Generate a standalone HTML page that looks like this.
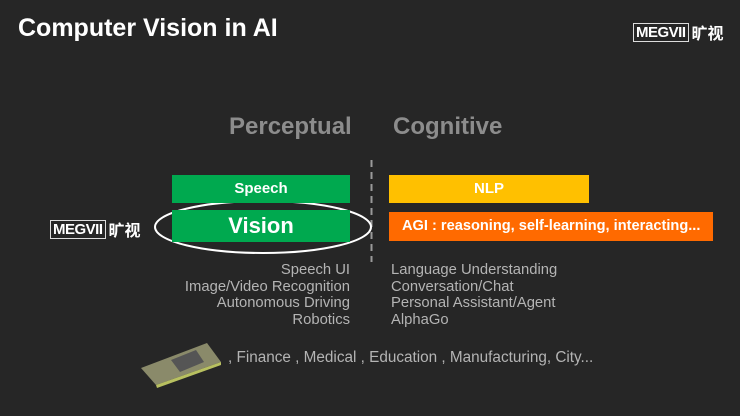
<!DOCTYPE html>
<html><head><meta charset="utf-8"><style>
html,body{margin:0;padding:0;}
body{width:740px;height:416px;background:#262626;position:relative;overflow:hidden;font-family:"Liberation Sans","Noto Sans CJK SC",sans-serif;}
.a{position:absolute;white-space:nowrap;}
.box{position:absolute;color:#fff;font-weight:bold;text-align:center;}
.l{font-size:14.8px;color:#b4b4b4;line-height:16.6px;}
.logo{position:absolute;display:flex;align-items:center;color:#fff;}
.logo .m{border:1.5px solid #ddd;padding:0 2px;font-weight:bold;font-family:"Liberation Sans Narrow","Liberation Sans",sans-serif;letter-spacing:-0.5px;line-height:17px;}
.logo .c{margin-left:3px;font-family:"Noto Sans CJK SC",sans-serif;font-weight:bold;}
</style></head><body>
<div class="a" style="left:18px;top:14px;font-size:25px;font-weight:bold;color:#fff;">Computer Vision in AI</div>
<div class="logo" style="left:633px;top:20px;"><span class="m" style="font-size:15px;">MEGVII</span><span class="c" style="font-size:16px;">旷视</span></div>

<div class="a" style="left:229px;top:113px;font-size:24px;font-weight:bold;color:#8c8c8c;">Perceptual</div>
<div class="a" style="left:393px;top:113px;font-size:24px;font-weight:bold;color:#8c8c8c;">Cognitive</div>

<svg class="a" style="left:0;top:0" width="740" height="416">
<line x1="371.5" y1="160" x2="371.5" y2="262" stroke="#9a9a9a" stroke-width="2" stroke-dasharray="7,5"/>
<ellipse cx="263" cy="227" rx="108" ry="26" fill="none" stroke="#fff" stroke-width="2"/>
<polygon points="141,368 207,343 221,362 156,385" fill="#8a8a6a"/>
<polygon points="156,385 221,362 221,365 157,388" fill="#b8c060"/>
<polygon points="171,360 196,350 204,362 180,372" fill="#555"/>
</svg>

<div class="box" style="left:172px;top:175px;width:178px;height:28px;background:#00a94f;font-size:15px;line-height:28px;">Speech</div>
<div class="box" style="left:172px;top:210px;width:178px;height:32px;background:#00a94f;font-size:22px;line-height:32px;">Vision</div>
<div class="box" style="left:389px;top:175px;width:200px;height:28px;background:#ffc000;font-size:15px;line-height:28px;">NLP</div>
<div class="box" style="left:389px;top:212px;width:324px;height:29px;background:#ff6a00;font-size:14.6px;line-height:29px;text-align:left;padding-left:13px;box-sizing:border-box;">AGI : reasoning, self-learning, interacting...</div>

<div class="logo" style="left:50px;top:217px;"><span class="m" style="font-size:15px;">MEGVII</span><span class="c" style="font-size:16px;">旷视</span></div>

<div class="a l" style="right:390px;top:262px;text-align:right;">Speech UI<br>Image/Video Recognition<br>Autonomous Driving<br>Robotics</div>
<div class="a l" style="left:391px;top:262px;">Language Understanding<br>Conversation/Chat<br>Personal Assistant/Agent<br>AlphaGo</div>

<div class="a" style="left:228px;top:349px;font-size:15.3px;color:#b4b4b4;">, Finance , Medical , Education , Manufacturing, City...</div>
</body></html>
